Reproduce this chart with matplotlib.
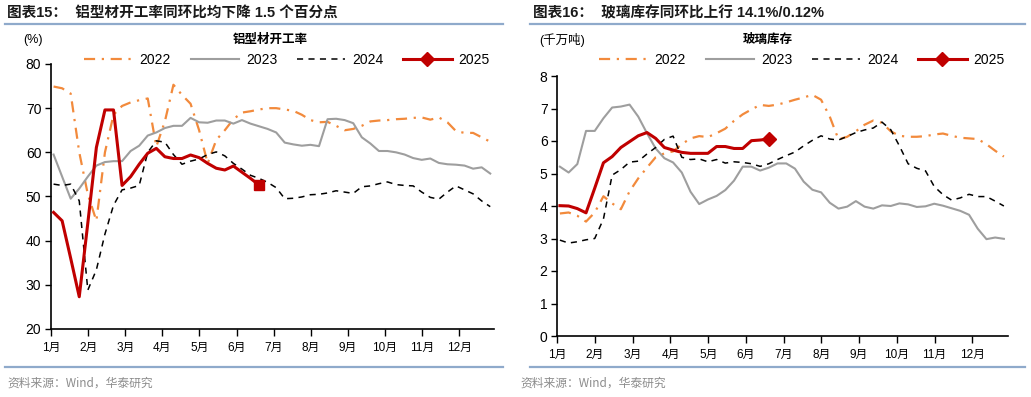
import numpy as np
import matplotlib
matplotlib.use("Agg")
import matplotlib.pyplot as plt
from matplotlib.lines import Line2D

plt.rcParams['font.family'] = ['Liberation Sans', 'Noto Sans CJK SC', 'DejaVu Sans']

# ---------------- data ----------------
months = ['1月', '2月', '3月', '4月', '5月', '6月', '7月', '8月', '9月', '10月', '11月', '12月']
series_names = ['2022', '2023', '2024', '2025']

# Aluminium profile operating rate (%), weekly
alu_2022 = [74.9, 74.5, 73.3, 60.0, 50.5, 44.5, 60.0, 68.5, 70.5, 71.3, 71.8, 72.2, 61.3, 67.0,
            75.3, 73.0, 71.0, 65.0, 57.5, 62.8, 65.0, 67.5, 69.0, 69.3, 69.7, 70.0, 70.0, 69.7,
            69.4, 68.5, 67.3, 66.8, 66.9, 66.0, 65.0, 65.3, 66.0, 67.0, 67.2, 67.3, 67.5, 67.6,
            67.8, 67.9, 67.4, 67.9, 66.8, 64.8, 64.4, 64.4, 63.4, 62.4]
alu_2023 = [59.5, 54.5, 49.5, 51.8, 54.5, 57.0, 57.8, 58.0, 58.0, 60.3, 61.5, 63.8, 64.5, 65.5,
            66.0, 66.0, 67.8, 66.8, 66.7, 67.2, 67.2, 66.5, 67.3, 66.5, 65.9, 65.3, 64.5, 62.2,
            61.8, 61.5, 61.7, 61.4, 67.5, 67.6, 67.3, 66.6, 63.4, 62.0, 60.3, 60.3, 60.0, 59.5,
            58.7, 58.3, 58.6, 57.6, 57.3, 57.2, 57.0, 56.3, 56.6, 55.2]
alu_2024 = [52.8, 52.5, 52.8, 49.0, 28.8, 33.4, 41.5, 48.0, 51.5, 51.9, 52.5, 60.0, 62.6, 62.3,
            59.5, 57.3, 58.0, 58.5, 59.5, 60.1, 59.2, 57.5, 56.2, 54.8, 54.1, 53.2, 52.0, 49.5,
            49.6, 49.9, 50.4, 50.5, 50.8, 51.3, 51.0, 50.7, 52.2, 52.4, 52.9, 53.3, 52.7, 52.5,
            52.4, 51.0, 49.8, 49.4, 51.0, 52.4, 51.5, 50.6, 49.0, 47.7]
alu_2025 = [46.4, 44.5, 36.0, 27.3, 44.0, 61.1, 69.6, 69.6, 52.5, 54.5, 57.3, 59.8, 60.9, 59.0,
            58.6, 58.6, 59.4, 58.8, 57.5, 56.4, 56.0, 56.9, 55.5, 54.1, 52.6]

# Glass inventory (10 million tonnes), weekly
gls_2022 = [3.77, 3.80, 3.70, 3.52, 3.80, 4.30, 4.08, 3.90, 4.45, 4.85, 5.18, 5.50, 5.62, 5.68,
            5.90, 6.08, 6.15, 6.12, 6.24, 6.38, 6.62, 6.82, 6.97, 7.11, 7.08, 7.12, 7.19, 7.27,
            7.34, 7.42, 7.27, 6.75, 6.05, 6.13, 6.30, 6.50, 6.63, 6.56, 6.30, 6.16, 6.13, 6.13,
            6.15, 6.20, 6.23, 6.16, 6.10, 6.08, 6.06, 5.90, 5.70, 5.52]
gls_2023 = [5.21, 5.03, 5.29, 6.31, 6.31, 6.70, 7.03, 7.06, 7.12, 6.75, 6.24, 5.77, 5.47, 5.34,
            5.03, 4.44, 4.06, 4.20, 4.31, 4.49, 4.78, 5.21, 5.21, 5.09, 5.18, 5.31, 5.31, 5.15,
            4.75, 4.50, 4.42, 4.10, 3.92, 3.98, 4.15, 3.98, 3.92, 4.02, 4.00, 4.08, 4.05, 3.97,
            3.99, 4.07, 4.01, 3.93, 3.85, 3.73, 3.30, 2.98, 3.03, 2.99]
gls_2024 = [2.95, 2.86, 2.90, 2.96, 3.00, 3.60, 4.95, 5.12, 5.35, 5.38, 5.60, 5.80, 6.05, 6.15,
            5.50, 5.43, 5.45, 5.36, 5.43, 5.32, 5.36, 5.34, 5.30, 5.22, 5.30, 5.43, 5.55, 5.66,
            5.85, 6.02, 6.16, 6.06, 6.03, 6.14, 6.26, 6.34, 6.40, 6.58, 6.35, 5.85, 5.30, 5.16,
            5.08, 4.60, 4.35, 4.18, 4.25, 4.36, 4.29, 4.29, 4.15, 4.00]
gls_2025 = [4.01, 4.00, 3.92, 3.79, 4.55, 5.33, 5.52, 5.80, 5.98, 6.16, 6.26, 6.08, 5.80, 5.72,
            5.65, 5.62, 5.62, 5.62, 5.83, 5.83, 5.77, 5.77, 6.01, 6.03, 6.06]

# ---------------- styling ----------------
C22, C23, C24, C25 = '#F28A3C', '#9E9E9E', '#000000', '#C00000'
BLUE = '#8FAACB'


def week_x(n):
    weeks = np.arange(1, n + 1)
    return (weeks - 1 + 0.3) * 12.0 / 52.0


fig = plt.figure(figsize=(10.31, 3.97), dpi=100)


def fy(py):
    return 1 - py / 397.0


def fx(px):
    return px / 1031.0


def panel(rect, data, ylim, yticks, end_marker, ylabel, subtitle, legend_cx):
    ax = fig.add_axes(rect)
    d22, d23, d24, d25 = data
    ax.plot(week_x(len(d22)), d22, color=C22, lw=1.6, linestyle=(0, (5, 3, 1, 3)), label='2022')
    ax.plot(week_x(len(d23)), d23, color=C23, lw=1.5, label='2023')
    ax.plot(week_x(len(d24)), d24, color=C24, lw=1.1, linestyle=(0, (4, 3.5)), label='2024')
    x25 = week_x(len(d25))
    ax.plot(x25, d25, color=C25, lw=2.2, zorder=5)
    ax.plot(x25[-1:], d25[-1:], color=C25, marker=end_marker, ms=7, lw=0, zorder=6)
    ax.set_xlim(0, 11.94)
    ax.set_ylim(*ylim)
    ax.set_yticks(yticks)
    ax.set_xticks(np.arange(12))
    ax.set_xticklabels(months, fontsize=8.5, family=['Liberation Sans', 'Noto Sans CJK SC'])
    ax.tick_params(axis='y', labelsize=10, length=4, width=1, direction='out', pad=3)
    ax.tick_params(axis='x', length=5, width=1, direction='out', pad=4)
    for s in ['top', 'right']:
        ax.spines[s].set_visible(False)
    for s in ['left', 'bottom']:
        ax.spines[s].set_linewidth(1.2)
    handles = [
        Line2D([], [], color=C22, lw=1.6, linestyle=(0, (5, 3, 1, 3))),
        Line2D([], [], color=C23, lw=1.5),
        Line2D([], [], color=C24, lw=1.1, linestyle=(0, (4, 3.5))),
        Line2D([0, 1], [0, 0], color=C25, lw=2.2, marker='D', ms=7, markevery=[1]),
    ]
    fig.legend(handles, series_names, loc='center', bbox_to_anchor=(legend_cx, fy(60)),
               ncol=4, frameon=False, fontsize=10, handlelength=3.5, handletextpad=0.5,
               columnspacing=1.4, borderpad=0)
    return ax


axL = panel([fx(51), fy(329), fx(494) - fx(51), fy(64) - fy(329)],
            [alu_2022, alu_2023, alu_2024, alu_2025], (20, 80), np.arange(20, 81, 10),
            's', '(%)', '铝型材开工率', fx(287))
axR = panel([fx(557.3), fy(336), fx(1007.7) - fx(557.3), fy(76) - fy(336)],
            [gls_2022, gls_2023, gls_2024, gls_2025], (0, 8), np.arange(0, 9, 1),
            'D', '(千万吨)', '玻璃库存', fx(802))

cjk = ['Liberation Sans', 'Noto Sans CJK SC']
# titles
fig.text(fx(7), fy(13), '图表15：  铝型材开工率同环比均下降 1.5 个百分点', fontsize=10.5,
         fontweight='bold', va='center', ha='left', family=cjk, color='#1a1a1a')
fig.text(fx(533), fy(13), '图表16：  玻璃库存同环比上行 14.1%/0.12%', fontsize=10.5,
         fontweight='bold', va='center', ha='left', family=cjk, color='#1a1a1a')
# unit labels and subtitles
fig.text(fx(33), fy(40), '(%)', fontsize=9, va='center', ha='center', family=cjk)
fig.text(fx(270), fy(40), '铝型材开工率', fontsize=9, va='center', ha='center', family=cjk,
         fontweight='bold')
fig.text(fx(562), fy(40), '(千万吨)', fontsize=9, va='center', ha='center', family=cjk)
fig.text(fx(768), fy(40), '玻璃库存', fontsize=9, va='center', ha='center', family=cjk,
         fontweight='bold')
# separator lines
for x0, x1 in [(5, 503), (530, 1025)]:
    for yy in (23.5, 367):
        fig.add_artist(Line2D([fx(x0), fx(x1)], [fy(yy), fy(yy)], color=BLUE, lw=1.6,
                              transform=fig.transFigure))
# sources
fig.text(fx(7), fy(383), '资料来源：Wind，华泰研究', fontsize=8.5, color='#8c8c8c',
         va='center', ha='left', family=['Noto Sans CJK SC', 'Liberation Sans'])
fig.text(fx(520), fy(383), '资料来源：Wind，华泰研究', fontsize=8.5, color='#8c8c8c',
         va='center', ha='left', family=['Noto Sans CJK SC', 'Liberation Sans'])

fig.savefig('out.png', dpi=100)
